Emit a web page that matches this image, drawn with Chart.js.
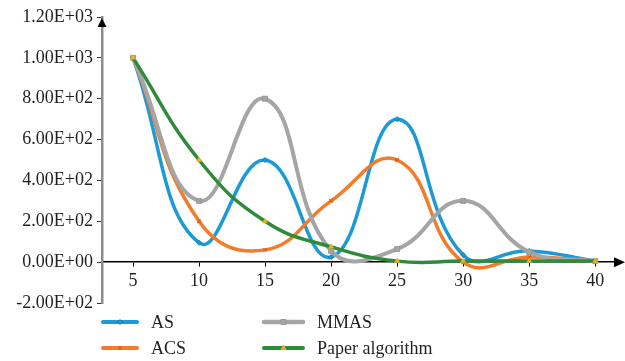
<!DOCTYPE html>
<html>
<head>
<meta charset="utf-8">
<script src="https://cdn.jsdelivr.net/npm/chart.js@4"></script>
<style>
html,body{margin:0;padding:0;background:#fff}
#wrap{width:625px;height:361px}
</style>
</head>
<body>
<div id="wrap"><canvas id="grafico"></canvas></div>
<script>
let iteraciones=[5,10,15,20,25,30,35,40]
let valoresAS=[1000,95,500,25,700,35,55,5]
let valoresACS=[1000,200,60,300,500,0,25,5]
let valoresMMAS=[1000,300,800,55,64,300,50,5]
let valoresPaper=[1000,500,200,75,5,5,5,5]
let ticksY=[-200,0,200,400,600,800,1000,1200]
let nombres=['AS','ACS','MMAS','Paper algorithm']

let fuente="'Liberation Serif', 'DejaVu Serif', serif"
let colores=['#1b9ad6','#f47b2a','#a5a5a5','#2e8b3a']

function puntos(valores){
  return iteraciones.map((x,i)=>({x:x,y:valores[i]}))
}

function formatoE(v){
  let partes=Number(v).toExponential(2).split('e')
  let exp=parseInt(partes[1])
  let signo=exp<0?'-':'+'
  return partes[0]+'E'+signo+String(Math.abs(exp)).padStart(2,'0')
}

let flechasYLeyenda={
  id:'flechasYLeyenda',
  afterDraw(chart){
    let ctx=chart.ctx
    let area=chart.chartArea
    let y0=chart.scales.y.getPixelForValue(0)
    ctx.save()
    ctx.fillStyle='#000'
    // flecha eje y
    ctx.beginPath()
    ctx.moveTo(area.left,area.top+1)
    ctx.lineTo(area.left-4.5,area.top+10)
    ctx.lineTo(area.left+4.5,area.top+10)
    ctx.closePath()
    ctx.fill()
    // flecha eje x
    ctx.beginPath()
    ctx.moveTo(area.right+10,y0)
    ctx.lineTo(area.right-1,y0-5)
    ctx.lineTo(area.right-1,y0+5)
    ctx.closePath()
    ctx.fill()

    // leyenda en dos columnas
    let posiciones=[[103,322],[103,348],[264,322],[264,348]]
    let largos=[34,34,39,39]
    chart.data.datasets.forEach((ds,i)=>{
      let [x,y]=posiciones[i]
      ctx.strokeStyle=ds.borderColor
      ctx.lineWidth=ds.borderWidth+0.5
      ctx.lineCap='round'
      ctx.beginPath()
      ctx.moveTo(x,y)
      ctx.lineTo(x+largos[i],y)
      ctx.stroke()
      ctx.lineCap='butt'
      ctx.fillStyle=ds.pointBackgroundColor
      ctx.strokeStyle=ds.pointBorderColor
      ctx.lineWidth=ds.pointBorderWidth
      Chart.helpers.drawPoint(ctx,{
        pointStyle:ds.pointStyle,
        radius:ds.pointRadius,
        borderWidth:ds.pointBorderWidth
      },x+largos[i]/2,y)
      ctx.fillStyle='#231f20'
      ctx.font="18px "+fuente
      ctx.textBaseline='middle'
      ctx.textAlign='left'
      ctx.fillText(ds.label,x+largos[i]+14,y+1)
    })
    ctx.restore()
  }
}

let grafico=new Chart(document.getElementById('grafico'),{
  type:'line',
  data:{
    datasets:[
      {label:nombres[0],data:puntos(valoresAS),borderColor:colores[0],
       borderWidth:3.5,pointStyle:'rectRot',pointRadius:2.5,pointBackgroundColor:colores[0],pointBorderColor:'#1580bd',pointBorderWidth:1,order:3},
      {label:nombres[1],data:puntos(valoresACS),borderColor:colores[1],
       borderWidth:3.5,pointStyle:'crossRot',pointRadius:2.5,pointBackgroundColor:colores[1],pointBorderColor:'#e0601a',pointBorderWidth:1.2,order:2},
      {label:nombres[2],data:puntos(valoresMMAS),borderColor:colores[2],
       borderWidth:4,pointStyle:'rect',pointRadius:3.5,pointBackgroundColor:colores[2],pointBorderColor:'#999',pointBorderWidth:1,order:1},
      {label:nombres[3],data:puntos(valoresPaper),borderColor:colores[3],
       borderWidth:3.5,pointStyle:'triangle',pointRadius:3,pointBackgroundColor:'#f2b21b',pointBorderColor:'#f2b21b',pointBorderWidth:0.5,order:0}
    ]
  },
  options:{
    responsive:true,
    maintainAspectRatio:false,
    animation:false,
    elements:{line:{tension:0.45,fill:false}},
    layout:{padding:{top:17,right:10,bottom:58,left:0}},
    plugins:{legend:{display:false},tooltip:{enabled:false}},
    scales:{
      x:{
        type:'linear',
        position:{y:0},
        min:2.65,
        max:41.5,
        afterBuildTicks(scale){scale.ticks=iteraciones.map(v=>({value:v}))},
        border:{display:true,color:'#000',width:1.5},
        grid:{drawOnChartArea:false,drawTicks:true,tickLength:4,color:'#000',lineWidth:1},
        ticks:{color:'#231f20',font:{family:fuente,size:18},padding:4,maxRotation:0,autoSkip:false}
      },
      y:{
        min:-200,
        max:1200,
        afterBuildTicks(scale){scale.ticks=ticksY.map(v=>({value:v}))},
        afterFit(scale){scale.width=102},
        border:{display:true,color:'#8c8c8c',width:2.5},
        grid:{drawOnChartArea:false,drawTicks:true,tickLength:5,color:'#333',lineWidth:1},
        ticks:{color:'#231f20',font:{family:fuente,size:18},padding:4,callback:v=>formatoE(v)}
      }
    }
  },
  plugins:[flechasYLeyenda]
})
</script>
</body>
</html>
